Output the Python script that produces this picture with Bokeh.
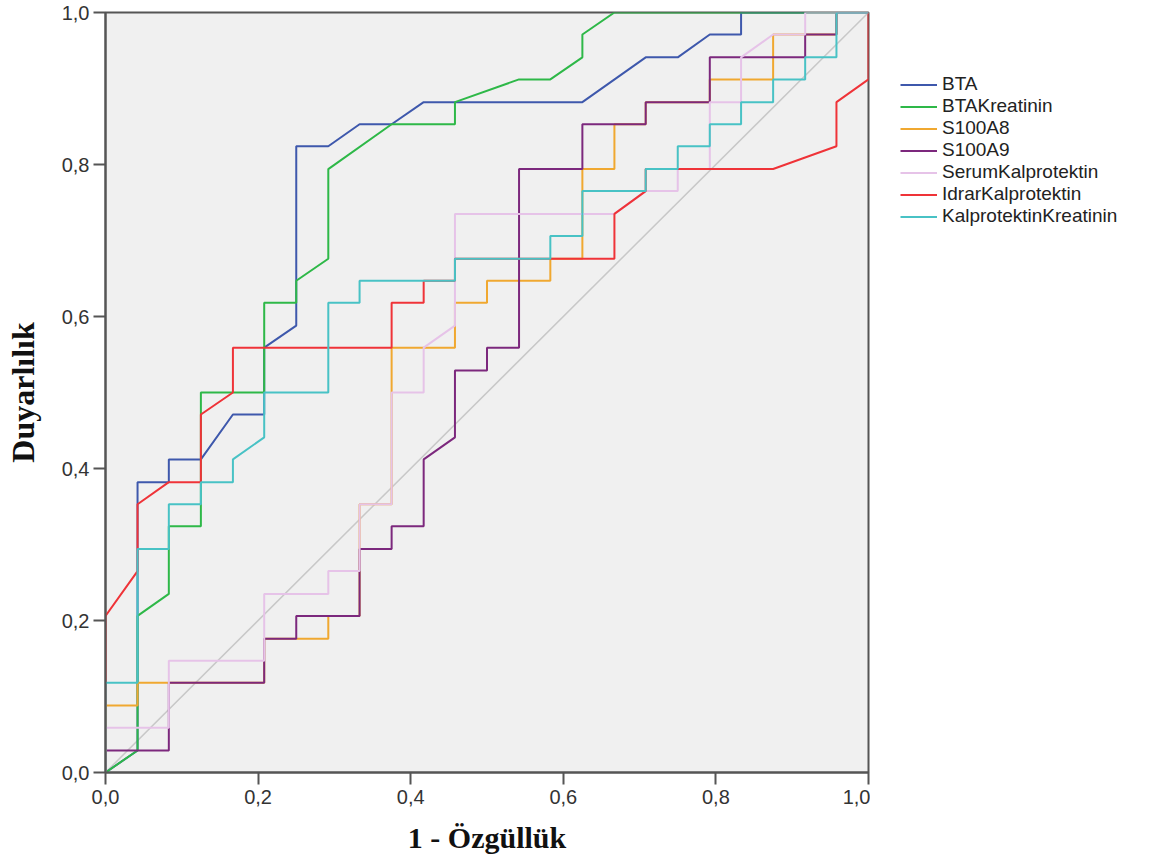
from bokeh.plotting import figure
from bokeh.models import Range1d, FixedTicker, Legend, LegendItem
from bokeh.layouts import row
from bokeh.embed import file_html
from bokeh.resources import INLINE

# ROC curves: x = 1 - Özgüllük, y = Duyarlılık
BTA_x = [0, 0.042, 0.042, 0.083, 0.083, 0.125, 0.167, 0.208, 0.208, 0.25, 0.25, 0.292, 0.333, 0.375, 0.417, 0.625, 0.708, 0.75, 0.792, 0.833, 0.833, 1]
BTA_y = [0, 0.029, 0.382, 0.382, 0.412, 0.412, 0.471, 0.471, 0.559, 0.588, 0.824, 0.824, 0.853, 0.853, 0.882, 0.882, 0.941, 0.941, 0.971, 0.971, 1, 1]

BTAK_x = [0, 0.042, 0.042, 0.083, 0.083, 0.125, 0.125, 0.208, 0.208, 0.25, 0.25, 0.292, 0.292, 0.375, 0.458, 0.458, 0.542, 0.583, 0.625, 0.625, 0.667, 1]
BTAK_y = [0, 0.029, 0.206, 0.235, 0.324, 0.324, 0.5, 0.5, 0.618, 0.618, 0.647, 0.676, 0.794, 0.853, 0.853, 0.882, 0.912, 0.912, 0.941, 0.971, 1, 1]

S8_x = [0, 0, 0.042, 0.042, 0.208, 0.208, 0.292, 0.292, 0.333, 0.333, 0.375, 0.375, 0.458, 0.458, 0.5, 0.5, 0.583, 0.583, 0.625, 0.625, 0.667, 0.667, 0.708, 0.708, 0.792, 0.792, 0.875, 0.875, 0.958, 0.958, 1]
S8_y = [0, 0.088, 0.088, 0.118, 0.118, 0.176, 0.176, 0.206, 0.206, 0.353, 0.353, 0.559, 0.559, 0.618, 0.618, 0.647, 0.647, 0.676, 0.676, 0.794, 0.794, 0.853, 0.853, 0.882, 0.882, 0.912, 0.912, 0.971, 0.971, 1, 1]

S9_x = [0, 0, 0.083, 0.083, 0.208, 0.208, 0.25, 0.25, 0.333, 0.333, 0.375, 0.375, 0.417, 0.417, 0.458, 0.458, 0.5, 0.5, 0.542, 0.542, 0.625, 0.625, 0.708, 0.708, 0.792, 0.792, 0.917, 0.917, 0.958, 0.958, 1]
S9_y = [0, 0.029, 0.029, 0.118, 0.118, 0.176, 0.176, 0.206, 0.206, 0.294, 0.294, 0.324, 0.324, 0.412, 0.441, 0.529, 0.529, 0.559, 0.559, 0.794, 0.794, 0.853, 0.853, 0.882, 0.882, 0.941, 0.941, 0.971, 0.971, 1, 1]

SK_x = [0, 0, 0.083, 0.083, 0.208, 0.208, 0.292, 0.292, 0.333, 0.333, 0.375, 0.375, 0.417, 0.417, 0.458, 0.458, 0.667, 0.708, 0.75, 0.75, 0.792, 0.792, 0.833, 0.833, 0.875, 0.917, 0.917, 1]
SK_y = [0, 0.059, 0.059, 0.147, 0.147, 0.235, 0.235, 0.265, 0.265, 0.353, 0.353, 0.5, 0.5, 0.559, 0.588, 0.735, 0.735, 0.765, 0.765, 0.794, 0.794, 0.882, 0.882, 0.941, 0.971, 0.971, 1, 1]

IK_x = [0, 0, 0.042, 0.042, 0.083, 0.125, 0.125, 0.167, 0.167, 0.375, 0.375, 0.417, 0.417, 0.458, 0.458, 0.667, 0.667, 0.708, 0.708, 0.875, 0.958, 0.958, 1, 1]
IK_y = [0, 0.206, 0.265, 0.353, 0.382, 0.382, 0.471, 0.5, 0.559, 0.559, 0.618, 0.618, 0.647, 0.647, 0.676, 0.676, 0.735, 0.765, 0.794, 0.794, 0.824, 0.882, 0.912, 1]

KK_x = [0, 0, 0.042, 0.042, 0.083, 0.083, 0.125, 0.125, 0.167, 0.167, 0.208, 0.208, 0.292, 0.292, 0.333, 0.333, 0.458, 0.458, 0.583, 0.583, 0.625, 0.625, 0.708, 0.708, 0.75, 0.75, 0.792, 0.792, 0.833, 0.833, 0.875, 0.875, 0.917, 0.917, 0.958, 0.958, 1]
KK_y = [0, 0.118, 0.118, 0.294, 0.294, 0.353, 0.353, 0.382, 0.382, 0.412, 0.441, 0.5, 0.5, 0.618, 0.618, 0.647, 0.647, 0.676, 0.676, 0.706, 0.706, 0.765, 0.765, 0.794, 0.794, 0.824, 0.824, 0.853, 0.853, 0.882, 0.882, 0.912, 0.912, 0.941, 0.941, 1, 1]

ref_x = [0, 1]
ref_y = [0, 1]

series_names = ["BTA", "BTAKreatinin", "S100A8", "S100A9", "SerumKalprotektin", "IdrarKalprotektin", "KalprotektinKreatinin"]
series_x = [BTA_x, BTAK_x, S8_x, S9_x, SK_x, IK_x, KK_x]
series_y = [BTA_y, BTAK_y, S8_y, S9_y, SK_y, IK_y, KK_y]
series_colors = ["#3E58AC", "#2EB848", "#F0A830", "#7C287D", "#E6C3E8", "#EF3338", "#48C2C5"]

tick_vals = [0, 0.2, 0.4, 0.6, 0.8, 1.0]
tick_labels = ["0,0", "0,2", "0,4", "0,6", "0,8", "1,0"]

# main ROC plot
p = figure(width=870, height=859, output_backend="svg", toolbar_location=None,
           x_range=Range1d(0, 1), y_range=Range1d(0, 1),
           min_border_left=105, min_border_right=2, min_border_top=12, min_border_bottom=87)
p.background_fill_color = "#F0F0F0"
p.border_fill_color = "white"
p.outline_line_color = "#555555"
p.outline_line_width = 2
p.grid.visible = False

p.line(ref_x, ref_y, line_color="#C8C8C8", line_width=1.5)

for name, xs, ys, c in zip(series_names, series_x, series_y, series_colors):
    p.line(xs, ys, line_color=c, line_width=2)

for ax in (p.xaxis[0], p.yaxis[0]):
    ax.ticker = FixedTicker(ticks=tick_vals)
    ax.major_label_overrides = {v: l for v, l in zip(tick_vals, tick_labels)}
    ax.minor_tick_line_color = None
    ax.axis_line_color = "#555555"
    ax.axis_line_width = 2
    ax.major_tick_line_color = "#555555"
    ax.major_tick_line_width = 2
    ax.major_tick_out = 12
    ax.major_tick_in = 0
    ax.major_label_text_font = "Liberation Sans"
    ax.major_label_text_font_size = "20px"
    ax.major_label_text_color = "#333333"
    ax.axis_label_text_font = "Liberation Serif"
    ax.axis_label_text_font_style = "bold"
    ax.axis_label_text_font_size = "30px"
    ax.axis_label_text_color = "#111111"

p.xaxis[0].axis_label = "1 - Özgüllük"
p.xaxis[0].major_label_standoff = 5
p.xaxis[0].axis_label_standoff = 14
p.yaxis[0].axis_label = "Duyarlılık"
p.yaxis[0].axis_label_text_font_size = "32px"
p.yaxis[0].major_label_standoff = 4
p.yaxis[0].axis_label_standoff = 18

# legend panel to the right (its own copies of the series sit outside its view range)
pl = figure(width=279, height=859, output_backend="svg", toolbar_location=None,
            x_range=Range1d(5, 6), y_range=Range1d(5, 6),
            min_border=0, outline_line_color=None)
pl.axis.visible = False
pl.grid.visible = False
pl.background_fill_color = "white"
pl.border_fill_color = "white"

items = []
for name, xs, ys, c in zip(series_names, series_x, series_y, series_colors):
    r = pl.line(xs, ys, line_color=c, line_width=2)
    items.append(LegendItem(label=name, renderers=[r]))

legend = Legend(items=items, location=(30, 545), orientation="vertical",
                background_fill_alpha=0, border_line_alpha=0,
                padding=0, spacing=0, margin=0,
                glyph_width=37, glyph_height=21, label_height=21,
                label_standoff=5, label_text_font="Liberation Sans",
                label_text_font_size="19px", label_text_color="#222222")
pl.add_layout(legend, "center")

layout = row(p, pl, spacing=0)
open("out.html", "w").write(file_html(layout, INLINE))
